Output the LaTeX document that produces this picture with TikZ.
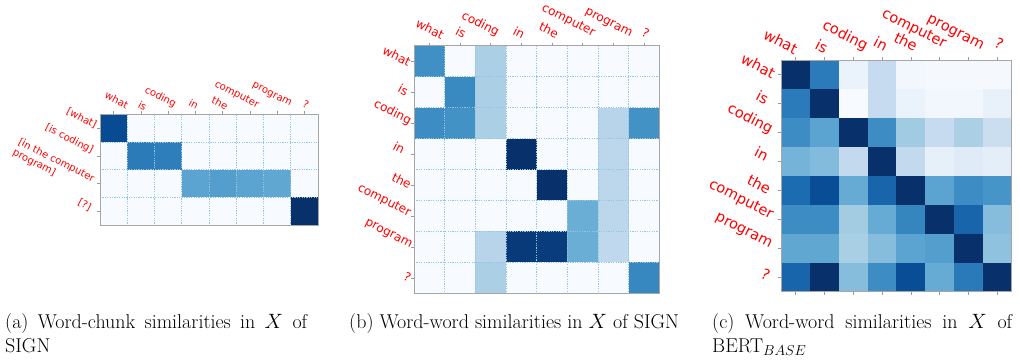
\documentclass[tikz,border=0pt]{standalone}
\usepackage{fontspec}
\newfontfamily\labfont{DejaVu Sans}

% Draw a heat map: #1,#2 = top-left corner, #3,#4 = cell width/height,
% #5 = list of rows, each a list of HTML colours.
\newcommand\heatmap[5]{%
  \foreach \rowlist [count=\r from 0] in {#5} {
    \foreach \hex [count=\k from 0] in \rowlist {
      \definecolor{cellc}{HTML}{\hex}
      \fill[cellc] ({#1+\k*#3},{#2+\r*#4}) rectangle ++({#3+0.15},{#4+0.15});
    }
  }
}

\begin{document}
\begin{tikzpicture}[x=1pt,y=-1pt,
  lab/.style={text=red, font=\labfont, inner sep=0pt, rotate=-27, anchor=center},
  laba/.style={lab, font=\labfont\fontsize{10}{12}\selectfont},
  labb/.style={lab, font=\labfont\fontsize{12}{14}\selectfont},
  labc/.style={lab, font=\labfont\fontsize{14.5}{17}\selectfont},
  frame/.style={draw=black!35, line width=0.8pt},
  gridln/.style={draw={rgb,255:red,150;green,196;blue,228}, dash pattern=on 1.2pt off 1.2pt, line width=0.6pt},
  tickmk/.style={draw=black!40, line width=0.5pt},
  capt/.style={font=\fontsize{20}{24}\selectfont, inner sep=0pt, anchor=base west}
]
\useasboundingbox (0,0) rectangle (1020,364);

% ---------------- (a) word-chunk similarities, SIGN ----------------
\heatmap{100}{114.3}{27.25}{27.7}{
  {084B93,F7FBFF,F7FBFF,F7FBFF,F7FBFF,F7FBFF,F7FBFF,F7FBFF},
  {F7FBFF,2C7BB9,2F7EBC,F7FBFF,F7FBFF,F7FBFF,F7FBFF,F7FBFF},
  {F7FBFF,F7FBFF,F7FBFF,5BA3D0,539ECD,5BA3D0,60A7D2,F7FBFF},
  {F7FBFF,F7FBFF,F7FBFF,F7FBFF,F7FBFF,F7FBFF,F7FBFF,08306B}}
\foreach \i in {0,...,8} \draw[gridln] ({100+\i*27.25},114.3) -- ({100+\i*27.25},225.1);
\foreach \j in {0,...,4} \draw[gridln] (100,{114.3+\j*27.7}) -- (318,{114.3+\j*27.7});
\draw[frame] (100,114.3) rectangle (318,225.1);
\foreach \i in {0,...,7} \draw[tickmk] ({100+(\i+0.5)*27.25},114.3) -- ++(0,-3);
\foreach \j in {0,...,3} \draw[tickmk] (100,{114.3+(\j+0.5)*27.7}) -- ++(-3,0);

\node[laba] (a-c1) at (116.7,100) {what};
\node[laba] (a-c2) at (142.5,105.8) {is};
\node[laba] (a-c3) at (160.3,97.2) {coding};
\node[laba] (a-c4) at (193.7,104.2) {in};
\node[laba] (a-c5) at (220,103) {the};
\node[laba] (a-c6) at (236.7,95) {computer};
\node[laba] (a-c7) at (271.7,95) {program};
\node[laba] (a-c8) at (305.8,104.2) {?};
\node[laba] (a-r1) at (81.7,118.3) {[what]};
\node[laba] (a-r2) at (69.2,139.2) {[is coding]};
\node[laba, align=left] (a-r3) at (53.5,166) {[in the computer\\program]};
\node[laba] (a-r4) at (84.7,205) {[?]};

% ---------------- (b) word-word similarities, SIGN ----------------
\heatmap{414}{45.7}{30.67}{30.95}{
  {4090C5,F7FBFF,ABD0E6,F7FBFF,F7FBFF,F7FBFF,F7FBFF,F7FBFF},
  {F7FBFF,3A8AC2,ABD0E6,F7FBFF,F7FBFF,F7FBFF,F7FBFF,F7FBFF},
  {3D8DC4,4292C6,ABD0E6,F7FBFF,F7FBFF,F7FBFF,B7D4EA,4292C6},
  {F7FBFF,F7FBFF,F7FBFF,08306B,F7FBFF,F7FBFF,BCD7EB,F7FBFF},
  {F7FBFF,F7FBFF,F7FBFF,F7FBFF,08306B,F7FBFF,BCD7EB,F7FBFF},
  {F7FBFF,F7FBFF,F7FBFF,F7FBFF,F7FBFF,6AAED6,BCD7EB,F7FBFF},
  {F7FBFF,F7FBFF,B7D4EA,083A7A,083C7D,6AAED6,C0D8ED,F7FBFF},
  {F7FBFF,F7FBFF,ABD0E6,F7FBFF,F7FBFF,F7FBFF,F7FBFF,3787C0}}
\foreach \i in {0,...,8} \draw[gridln] ({414+\i*30.67},45.7) -- ({414+\i*30.67},293.3);
\foreach \j in {0,...,8} \draw[gridln] (414,{45.7+\j*30.95}) -- (659.4,{45.7+\j*30.95});
\draw[frame] (414,45.7) rectangle (659.4,293.3);
\foreach \i in {0,...,7} \draw[tickmk] ({414+(\i+0.5)*30.67},45.7) -- ++(0,-3);
\foreach \j in {0,...,7} \draw[tickmk] (414,{45.7+(\j+0.5)*30.95}) -- ++(-3,0);

\node[labb] (b-c1) at (430,29.2) {what};
\node[labb] (b-c2) at (461,32.5) {is};
\node[labb] (b-c3) at (480.3,24.2) {coding};
\node[labb] (b-c4) at (519,32.5) {in};
\node[labb] (b-c5) at (549,30) {the};
\node[labb] (b-c6) at (568.3,20.8) {computer};
\node[labb] (b-c7) at (608.3,23.3) {program};
\node[labb] (b-c8) at (645.8,33.3) {?};
\node[labb] (b-r1) at (396.7,55.8) {what};
\node[labb] (b-r2) at (403.3,90) {is};
\node[labb] (b-r3) at (392.5,112.5) {coding};
\node[labb] (b-r4) at (399,147.5) {in};
\node[labb] (b-r5) at (401.7,180.8) {the};
\node[labb] (b-r6) at (384.2,200.8) {computer};
\node[labb] (b-r7) at (388.3,234.2) {program};
\node[labb] (b-r8) at (407.5,276.7) {?};

% ---------------- (c) word-word similarities, BERT-base ----------------
\heatmap{781}{60}{28.85}{28.95}{
  {08306B,2B7BBA,EAF3FB,C6DBEF,F1F7FD,F5F9FE,F5F9FE,F5F9FE},
  {2B7BBA,08306B,F7FBFF,C6DBEF,EAF2FB,F2F7FD,F2F7FD,E8F1FA},
  {3D8DC4,5BA3D0,08306B,3D8DC4,A0CBE2,C6DBEF,ABD0E6,CADEF0},
  {75B4D8,82BBDB,C2D9EE,08306B,C2D9EE,E6F0F9,DFEBF7,E3EEF9},
  {1C6CB1,084D96,66ABD4,1865AC,08306B,5BA3D0,3D8DC4,4695C8},
  {3D8DC4,3D8DC4,A3CCE3,66ABD4,3585BF,08306B,1865AC,87BDDC},
  {60A7D2,60A7D2,A9CFE5,87BDDC,5BA3D0,539ECD,08306B,8FC2DE},
  {1865AC,08306B,87BDDC,3D8DC4,084D96,66ABD4,2A7AB9,08306B}}
\draw[frame] (781,60) rectangle (1011.8,291.6);
\foreach \i in {0,...,7} {
  \draw[tickmk] ({781+(\i+0.5)*28.85},60) -- ++(0,-3);
  \draw[tickmk] ({781+(\i+0.5)*28.85},291.6) -- ++(0,3);
}
\foreach \j in {0,...,7} \draw[tickmk] (781,{60+(\j+0.5)*28.95}) -- ++(-3,0);

\node[labc] (c-c1) at (780.8,41.7) {what};
\node[labc] (c-c2) at (821.7,46.7) {is};
\node[labc] (c-c3) at (845,35.8) {coding};
\node[labc] (c-c4) at (880.8,43.3) {in};
\node[labc] (c-c5) at (905.8,41.7) {the};
\node[labc] (c-c6) at (913.8,29.2) {computer};
\node[labc] (c-c7) at (955,33.3) {program};
\node[labc] (c-c8) at (999.2,43.3) {?};
\node[labc] (c-r1) at (758.3,65.8) {what};
\node[labc] (c-r2) at (762.5,97.5) {is};
\node[labc] (c-r3) at (750,119.2) {coding};
\node[labc] (c-r4) at (761.7,153.3) {in};
\node[labc] (c-r5) at (759.2,184.2) {the};
\node[labc] (c-r6) at (740.8,200) {computer};
\node[labc] (c-r7) at (743.3,231.7) {program};
\node[labc] (c-r8) at (765.8,274.2) {?};

% ---------------- captions ----------------
\node[capt] (cap-a1) at (5,328) {\makebox[302pt][s]{(a) Word-chunk similarities in $X$ of}};
\node[capt] (cap-a2) at (5,352) {SIGN};
\node[capt] (cap-b1) at (349,328) {(b) Word-word similarities in $X$ of SIGN};
\node[capt] (cap-c1) at (712,328) {\makebox[300pt][s]{(c) Word-word similarities in $X$ of}};
\node[capt] (cap-c2) at (712,352) {BERT$_{BASE}$};
\end{tikzpicture}
\end{document}
